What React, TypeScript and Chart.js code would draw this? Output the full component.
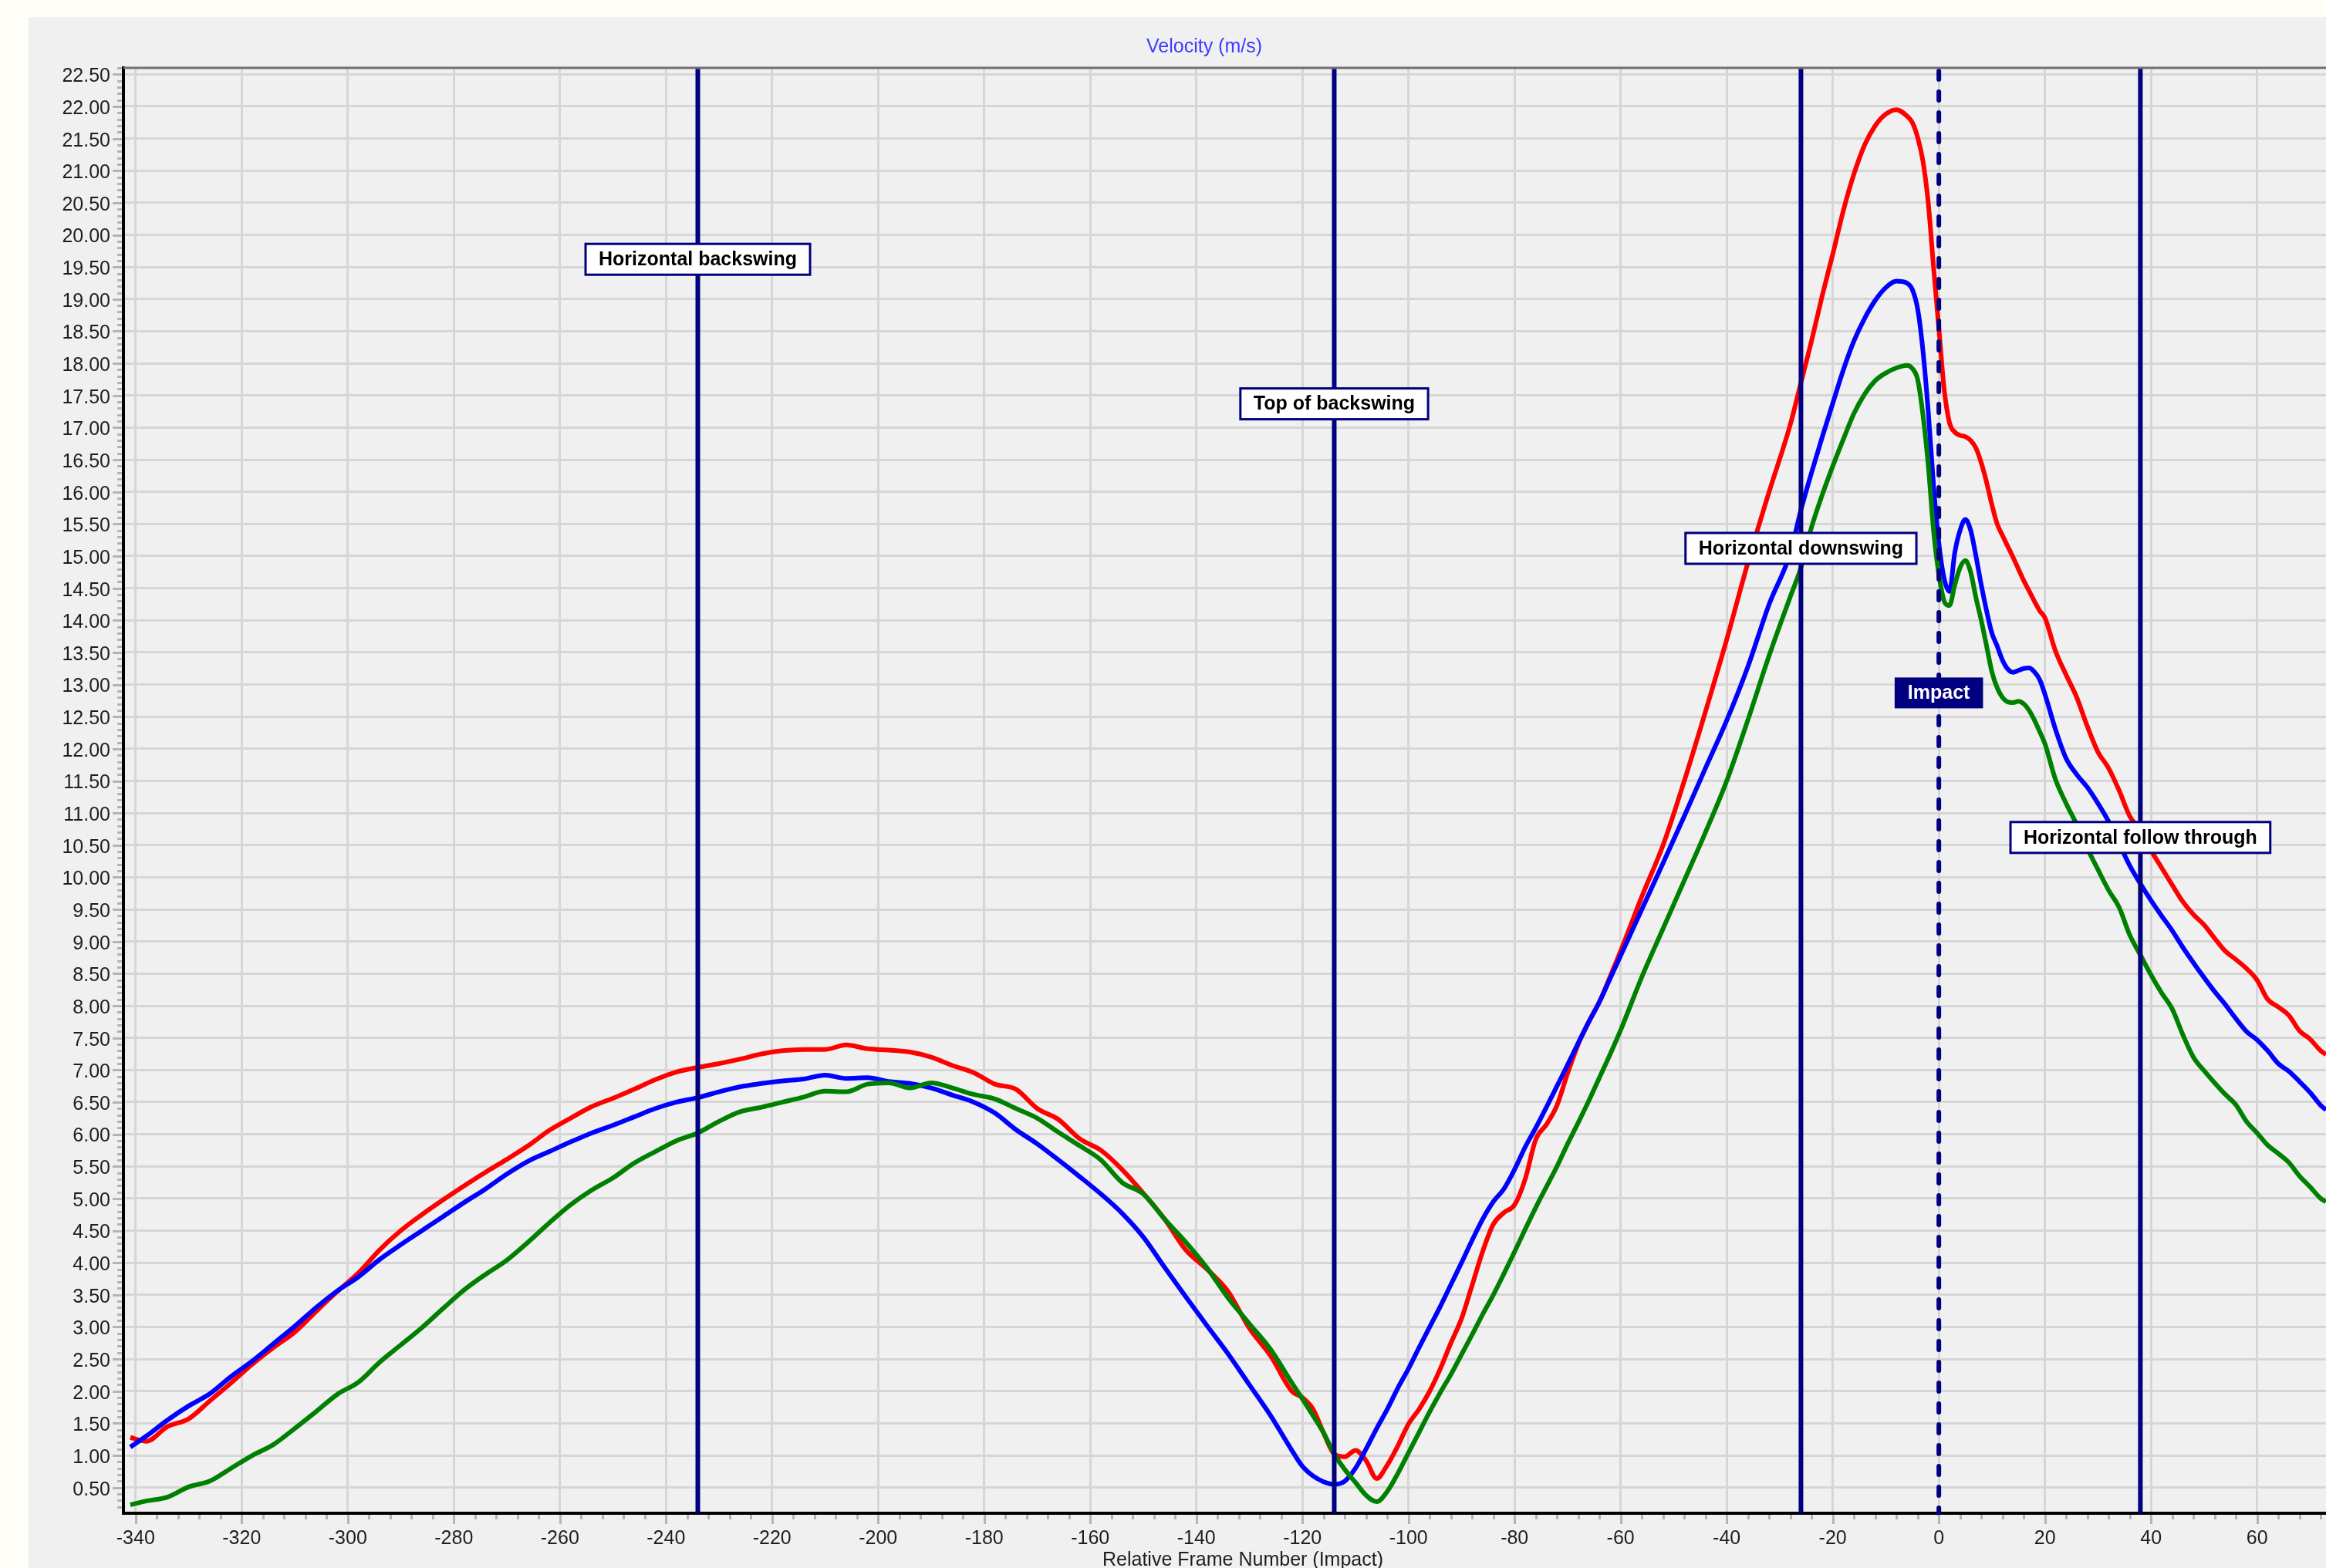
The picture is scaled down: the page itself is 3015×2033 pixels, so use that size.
import React, { useEffect, useRef } from 'react';
import { Chart, registerables } from 'chart.js';

Chart.register(...registerables);

// ---------------- data ----------------
const frames = [
  -341, -338, -334, -330, -326, -322, -318, -314, -310, -306, -302, -298, -294, -290, -286, -282, -278, -274, -270, -266,
  -262, -258, -254, -250, -246, -242, -238, -234, -230, -226, -222, -218, -214, -210, -206, -202, -198, -194, -190, -186,
  -182, -178, -174, -170, -166, -162, -158, -154, -150, -146, -142, -138, -134, -130, -126,
  -122, -120, -118, -116, -114, -112, -110, -108, -106, -104, -102, -100, -98, -96, -94, -92, -90, -88, -86, -84,
  -82, -80, -78, -76, -74, -72, -70, -68, -66, -64, -62, -60,
  -56, -52, -48, -44, -40, -36, -32, -28,
  -26, -24, -22, -20, -18, -16, -14, -12, -10, -8, -6,
  -5, -4, -3, -2, -1, 0, 1, 2, 3, 4, 5, 6, 7, 8, 9, 10, 11, 12, 13, 14, 15, 16, 17, 18, 19, 20,
  22, 24, 26, 28, 30, 32, 34, 36, 38, 40, 42, 44, 46, 48, 50, 52, 54, 56, 58, 60, 62, 64, 66, 68, 70, 72, 73,
];

const redSpeed = [
  1.28, 1.22, 1.45, 1.57, 1.85, 2.13, 2.42, 2.68, 2.92, 3.24, 3.55, 3.84, 4.2, 4.5, 4.75, 4.98, 5.2, 5.41, 5.61, 5.82,
  6.06, 6.25, 6.43, 6.56, 6.7, 6.85, 6.97, 7.04, 7.1, 7.17, 7.25, 7.3, 7.32, 7.32, 7.39, 7.33, 7.31, 7.28, 7.2, 7.07,
  6.96, 6.78, 6.7, 6.4, 6.23, 5.93, 5.75, 5.45, 5.08, 4.68, 4.2, 3.9, 3.55, 2.98, 2.55,
  2.0, 1.9, 1.72, 1.35, 1.02, 0.98, 1.08, 0.92, 0.64, 0.85, 1.15, 1.49, 1.72, 2.0, 2.35, 2.75, 3.13, 3.65, 4.18, 4.6,
  4.78, 4.9, 5.3, 5.92, 6.15, 6.45, 6.95, 7.4, 7.75, 8.06, 8.45, 8.85,
  9.7, 10.5, 11.5, 12.58, 13.7, 14.9, 16.0, 17.05,
  17.7, 18.35, 19.05, 19.7, 20.38, 20.95, 21.4, 21.7, 21.88, 21.95, 21.85,
  21.75, 21.52, 21.15, 20.5, 19.5, 18.55, 17.6, 17.08, 16.93, 16.88, 16.86, 16.8, 16.68, 16.45, 16.15, 15.8, 15.5, 15.32,
  15.15, 14.98, 14.8, 14.62, 14.46, 14.3, 14.15, 14.04,
  13.52, 13.15, 12.8, 12.35, 11.95, 11.7, 11.35, 10.95, 10.73, 10.42, 10.15, 9.88, 9.62, 9.42, 9.26, 9.05, 8.85, 8.72,
  8.58, 8.4, 8.1, 7.98, 7.85, 7.61, 7.48, 7.3, 7.24,
];

const blueSpeed = [
  1.13, 1.3, 1.55, 1.77, 1.96, 2.23, 2.47, 2.74, 3.01, 3.3, 3.56, 3.78, 4.05, 4.28, 4.5, 4.72, 4.94, 5.15, 5.38, 5.58,
  5.73, 5.88, 6.02, 6.14, 6.27, 6.4, 6.5, 6.57, 6.66, 6.74, 6.79, 6.83, 6.86, 6.92, 6.87, 6.88, 6.82, 6.79, 6.72, 6.61,
  6.5, 6.33, 6.07, 5.85, 5.6, 5.34, 5.07, 4.77, 4.4, 3.93, 3.47, 3.02, 2.58, 2.1, 1.62,
  1.08, 0.83, 0.68, 0.59, 0.55, 0.6, 0.8, 1.1, 1.42, 1.72, 2.05, 2.35, 2.68, 3.0, 3.32, 3.66, 4.0, 4.35, 4.68, 4.95,
  5.15, 5.45, 5.8, 6.1, 6.42, 6.75, 7.08, 7.42, 7.75, 8.06, 8.42, 8.78,
  9.5, 10.22, 10.95, 11.7, 12.44, 13.28, 14.25, 15.05,
  15.72, 16.3, 16.85, 17.38, 17.9, 18.35, 18.7, 18.98, 19.18, 19.28, 19.25,
  19.15, 18.85, 18.2, 17.25, 16.1, 15.2, 14.65, 14.45, 15.05, 15.4, 15.57, 15.4, 15.0, 14.55, 14.15, 13.8, 13.6, 13.38,
  13.24, 13.19, 13.22, 13.25, 13.26, 13.2, 13.08, 12.85,
  12.3, 11.85, 11.6, 11.4, 11.15, 10.87, 10.53, 10.18, 9.9, 9.64, 9.4, 9.17, 8.91, 8.67, 8.44, 8.22, 8.02, 7.8,
  7.6, 7.47, 7.3, 7.1, 6.98, 6.82, 6.65, 6.45, 6.38,
];

const greenSpeed = [
  0.23, 0.29, 0.35, 0.51, 0.6, 0.8, 1.0, 1.17, 1.42, 1.68, 1.95, 2.14, 2.45, 2.72, 2.99, 3.29, 3.58, 3.82, 4.04, 4.32,
  4.62, 4.9, 5.13, 5.32, 5.55, 5.73, 5.9, 6.02, 6.2, 6.35, 6.42, 6.5, 6.58, 6.67, 6.66, 6.78, 6.8, 6.72, 6.8, 6.72,
  6.62, 6.55, 6.4, 6.25, 6.03, 5.82, 5.6, 5.25, 5.07, 4.68, 4.32, 3.92, 3.45, 3.05, 2.65,
  2.13, 1.88, 1.62, 1.35, 1.02, 0.78, 0.58, 0.38, 0.28, 0.44, 0.72, 1.04, 1.36, 1.68, 1.98, 2.26, 2.57, 2.88, 3.2, 3.5,
  3.83, 4.17, 4.52, 4.86, 5.18, 5.5, 5.85, 6.18, 6.52, 6.88, 7.24, 7.62,
  8.45, 9.2, 9.95, 10.7, 11.5, 12.45, 13.45, 14.37,
  14.82, 15.45, 15.95, 16.4, 16.82, 17.22, 17.52, 17.73, 17.85, 17.93, 17.97,
  17.92, 17.75, 17.2, 16.42, 15.4, 14.72, 14.3, 14.23, 14.55, 14.82, 14.93, 14.75, 14.35, 14.0, 13.6, 13.2, 12.95, 12.8,
  12.73, 12.72, 12.74, 12.7, 12.6, 12.45, 12.27, 12.08,
  11.52, 11.15, 10.82, 10.45, 10.12, 9.8, 9.53, 9.1, 8.79, 8.48, 8.2, 7.95, 7.55, 7.2, 6.99, 6.8, 6.62, 6.46,
  6.2, 6.02, 5.83, 5.7, 5.56, 5.35, 5.18, 5.0, 4.95,
];

const xTickValues = [-340, -320, -300, -280, -260, -240, -220, -200, -180, -160, -140, -120, -100, -80, -60, -40, -20, 0, 20, 40, 60];
const yTickValues = [
  0.5, 1, 1.5, 2, 2.5, 3, 3.5, 4, 4.5, 5, 5.5, 6, 6.5, 7, 7.5, 8, 8.5, 9, 9.5, 10, 10.5, 11, 11.5,
  12, 12.5, 13, 13.5, 14, 14.5, 15, 15.5, 16, 16.5, 17, 17.5, 18, 18.5, 19, 19.5, 20, 20.5, 21, 21.5, 22, 22.5,
];

const eventFrames = [-234, -114, -26, 0, 38];
const eventLabels = ['Horizontal backswing', 'Top of backswing', 'Horizontal downswing', 'Impact', 'Horizontal follow through'];

const chartTitle = 'Velocity (m/s)';
const xAxisTitle = 'Relative Frame Number (Impact)';

// ---------------- styling ----------------
const W = 3015;
const H = 2033;
const FONT = '"Liberation Sans", Arial, Helvetica, sans-serif';
const NAVY = '#000080';

const decorPlugin = {
  id: 'decor',
  beforeDraw(chart: any) {
    const { ctx } = chart;
    ctx.save();
    ctx.fillStyle = '#fefdf8';
    ctx.fillRect(0, 0, chart.width, chart.height);
    ctx.fillStyle = '#f0f0f0';
    ctx.fillRect(37, 22, chart.width - 37, chart.height - 22);
    ctx.restore();
  },
  afterDatasetsDraw(chart: any) {
    const { ctx, chartArea: a, scales } = chart;
    const xs = scales.x;
    const ys = scales.y;
    ctx.save();
    ctx.strokeStyle = NAVY;
    eventFrames.forEach((f, i) => {
      const x = xs.getPixelForValue(f);
      const isImpact = eventLabels[i] === 'Impact';
      ctx.beginPath();
      if (isImpact) {
        ctx.setLineDash([11, 16]);
        ctx.lineCap = 'round';
        ctx.lineWidth = 6;
        ctx.moveTo(x, a.top + 4);
      } else {
        ctx.setLineDash([]);
        ctx.lineCap = 'butt';
        ctx.lineWidth = 6;
        ctx.moveTo(x, a.top);
      }
      ctx.lineTo(x, a.bottom);
      ctx.stroke();
    });
    ctx.restore();

    ctx.save();
    ctx.font = `bold 25px ${FONT}`;
    ctx.textAlign = 'center';
    ctx.textBaseline = 'middle';
    eventFrames.forEach((f, i) => {
      const label = eventLabels[i];
      const isImpact = label === 'Impact';
      const x = xs.getPixelForValue(f);
      const y = ys.getPixelForValue(19.62 - 2.25 * i);
      const tw = ctx.measureText(label).width;
      const bw = tw + 34;
      const bh = 40;
      ctx.fillStyle = isImpact ? NAVY : '#ffffff';
      ctx.fillRect(x - bw / 2, y - bh / 2, bw, bh);
      if (!isImpact) {
        ctx.strokeStyle = NAVY;
        ctx.lineWidth = 3;
        ctx.strokeRect(x - bw / 2, y - bh / 2, bw, bh);
      }
      ctx.fillStyle = isImpact ? '#ffffff' : '#000000';
      ctx.fillText(label, x, y + 1);
    });
    ctx.restore();
  },
  afterDraw(chart: any) {
    const { ctx, chartArea: a, scales } = chart;
    const xs = scales.x;
    const ys = scales.y;
    ctx.save();
    // top border
    ctx.strokeStyle = '#707070';
    ctx.lineWidth = 3;
    ctx.beginPath();
    ctx.moveTo(a.left, a.top);
    ctx.lineTo(a.right, a.top);
    ctx.stroke();

    // tick marks
    ctx.strokeStyle = '#b4b4b4';
    ctx.lineWidth = 3;
    ctx.beginPath();
    for (let f = -340; f <= 72; f += 4) {
      const x = Math.round(xs.getPixelForValue(f)) + 0.5;
      const major = f % 20 === 0;
      ctx.moveTo(x, a.bottom + 2);
      ctx.lineTo(x, a.bottom + (major ? 14 : 8));
    }
    for (let k = 2; k <= 226; k++) {
      const y = Math.round(ys.getPixelForValue(k / 10)) + 0.5;
      const major = k % 5 === 0;
      ctx.moveTo(a.left - 2, y);
      ctx.lineTo(a.left - (major ? 14 : 8), y);
    }
    ctx.stroke();

    // titles
    ctx.font = `25px ${FONT}`;
    ctx.textAlign = 'center';
    ctx.textBaseline = 'middle';
    ctx.fillStyle = '#3c3cff';
    ctx.fillText(chartTitle, 1561, 61);
    ctx.fillStyle = '#1e1e1e';
    ctx.fillText(xAxisTitle, 1611, 2023);
    ctx.restore();
  },
};

function makeSeries(values: number[]) {
  return frames.map((f, i) => ({ x: f, y: values[i] }));
}

export default function App() {
  const ref = useRef<HTMLCanvasElement | null>(null);

  useEffect(() => {
    if (!ref.current) return;
    const tickFont = { family: FONT, size: 25 };
    const chart = new Chart(ref.current, {
      type: 'line',
      data: {
        datasets: [
          { label: 'red', data: makeSeries(redSpeed), borderColor: '#ff0000', order: 3 },
          { label: 'blue', data: makeSeries(blueSpeed), borderColor: '#0000ff', order: 2 },
          { label: 'green', data: makeSeries(greenSpeed), borderColor: '#008000', order: 1 },
        ],
      },
      options: {
        responsive: false,
        animation: false,
        devicePixelRatio: 1,
        layout: { padding: { top: 88, left: 0, right: 0, bottom: 0 } },
        plugins: {
          legend: { display: false },
          tooltip: { enabled: false },
          title: { display: false },
        },
        elements: {
          point: { radius: 0 },
          line: { borderWidth: 6, cubicInterpolationMode: 'monotone', fill: false },
        },
        scales: {
          x: {
            type: 'linear',
            min: -342.3,
            max: 73,
            afterBuildTicks: (s: any) => {
              s.ticks = xTickValues.map((v) => ({ value: v }));
            },
            afterFit: (s: any) => {
              s.height = 71;
            },
            grid: { color: '#d6d6d6', lineWidth: 3, drawTicks: false },
            border: { color: '#000000', width: 4 },
            ticks: {
              font: tickFont,
              color: '#1e1e1e',
              padding: 18,
              maxRotation: 0,
              autoSkip: false,
              callback: (v: any) => String(v),
            },
          },
          y: {
            type: 'linear',
            min: 0.1,
            max: 22.6,
            afterBuildTicks: (s: any) => {
              s.ticks = yTickValues.map((v) => ({ value: v }));
            },
            afterFit: (s: any) => {
              s.width = 160;
            },
            grid: { color: '#d6d6d6', lineWidth: 3, drawTicks: false },
            border: { color: '#000000', width: 4 },
            ticks: {
              font: tickFont,
              color: '#1e1e1e',
              padding: 17,
              labelOffset: 3,
              autoSkip: false,
              callback: (v: any) => Number(v).toFixed(2),
            },
          },
        },
      } as any,
      plugins: [decorPlugin as any],
    });
    return () => chart.destroy();
  }, []);

  return (
    <div style={{ position: 'fixed', left: 0, top: 0, width: W, height: H, overflow: 'hidden' }}>
      <canvas ref={ref} width={W} height={H} style={{ display: 'block', width: W, height: H }} />
    </div>
  );
}
